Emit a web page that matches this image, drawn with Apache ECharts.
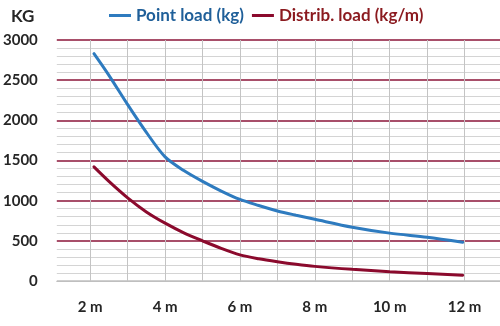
<!DOCTYPE html>
<html>
<head>
<meta charset="utf-8">
<script src="https://cdn.jsdelivr.net/npm/echarts@6/dist/echarts.min.js"></script>
<style>
html,body{margin:0;padding:0;background:#fff;}
#c{width:500px;height:326px;}
</style>
</head>
<body>
<div id="c"></div>
<script>
// Data
var spans = [2.1, 2.5, 3, 3.5, 4, 4.5, 5, 5.5, 6, 6.5, 7, 7.5, 8, 9, 10, 11, 11.95];
var pointLoad = [2830, 2560, 2195, 1850, 1545, 1375, 1240, 1120, 1015, 940, 872, 818, 768, 670, 596, 544, 482];
var distribLoad = [1420, 1240, 1035, 860, 720, 600, 500, 405, 325, 277, 240, 208, 182, 145, 115, 92, 72];
var seriesNames = ['Point load (kg)', 'Distrib. load (kg/m)'];
var yTicks = [0, 500, 1000, 1500, 2000, 2500, 3000];
var xLabelValues = [2, 4, 6, 8, 10, 12];

function pairs(xs, ys) { return xs.map(function (x, i) { return [x, ys[i]]; }); }

var BLUE = '#2E7BBF', MAROON = '#8B0A2D';
var FONT = 'Lato, "Open Sans", sans-serif';
var chart = echarts.init(document.getElementById('c'), null, {renderer: 'canvas'});
chart.setOption({
  animation: false,
  backgroundColor: '#fff',
  title: {
    text: 'KG', left: 6, top: 3,
    textStyle: {fontFamily: FONT, fontWeight: 'bold', fontSize: 17, color: '#262626'}
  },
  legend: {
    left: 104, top: 2,
    icon: 'rect', itemWidth: 22, itemHeight: 3, itemGap: 8,
    textStyle: {fontFamily: FONT, fontWeight: 'bold', fontSize: 17},
    data: [
      {name: seriesNames[0], textStyle: {color: '#1F5F99'}},
      {name: seriesNames[1], textStyle: {color: '#8B1A1F'}}
    ]
  },
  grid: {left: 56, right: 0, top: 40, bottom: 45, containLabel: false},
  xAxis: {
    type: 'value',
    min: 1.107, max: 12.947,
    minInterval: 1, maxInterval: 1,
    axisLine: {show: true, lineStyle: {color: '#BFBFBF', width: 1}},
    axisTick: {show: false},
    splitLine: {show: true, showMinLine: false, showMaxLine: false, lineStyle: {color: '#C4C4C4', width: 1}},
    axisLabel: {
      margin: 19,
      fontFamily: FONT, fontWeight: 'bold', fontSize: 15, color: '#262626',
      showMinLabel: false, showMaxLabel: false,
      formatter: function (v) {
        return xLabelValues.indexOf(Math.round(v * 1000) / 1000) >= 0 ? v + ' m' : '';
      }
    }
  },
  yAxis: {
    type: 'value',
    min: yTicks[0], max: yTicks[yTicks.length - 1], interval: 500,
    axisLine: {show: false},
    axisTick: {show: false},
    axisLabel: {
      margin: 19, fontFamily: FONT, fontWeight: 'bold', fontSize: 15, color: '#262626',
      formatter: function (v) { return String(v); }
    },
    splitLine: {show: true, lineStyle: {color: ['#BFBFBF', '#8B1538', '#8B1538', '#8B1538', '#8B1538', '#8B1538', '#8B1538'], width: 1.5}},
    minorTick: {show: false, splitNumber: 5},
    minorSplitLine: {show: true, lineStyle: {color: '#D4D4D4', width: 1}}
  },
  series: [
    {
      name: seriesNames[0], type: 'line', smooth: 0.3, showSymbol: false, symbol: 'none',
      data: pairs(spans, pointLoad),
      lineStyle: {color: BLUE, width: 3, cap: 'round'}, itemStyle: {color: BLUE}, z: 3
    },
    {
      name: seriesNames[1], type: 'line', smooth: 0.3, showSymbol: false, symbol: 'none',
      data: pairs(spans, distribLoad),
      lineStyle: {color: MAROON, width: 3, cap: 'round'}, itemStyle: {color: MAROON}, z: 3
    }
  ]
});
</script>
</body>
</html>
